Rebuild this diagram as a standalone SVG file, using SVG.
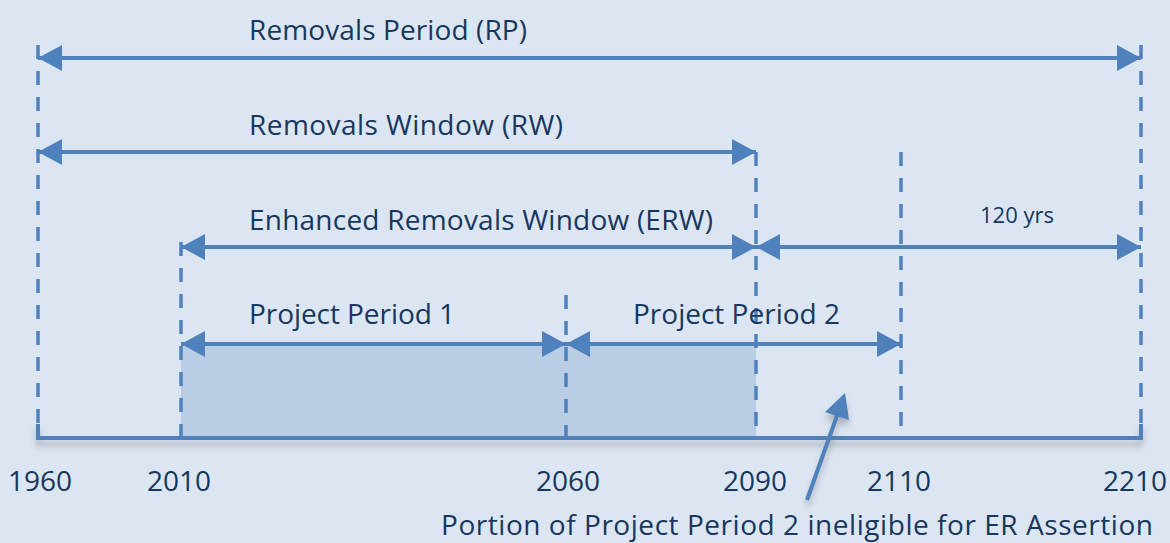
<svg xmlns="http://www.w3.org/2000/svg" width="1170" height="543" viewBox="0 0 1170 543">
  <defs>
    <style>
      .lbl { font-family: "Open Sans", "Noto Sans", "Liberation Sans", sans-serif; fill: #17375e; }
      .big { font-size: 28px; }
      .small { font-size: 22px; }
      .span { fill: none; stroke: #4f81bd; stroke-width: 4; }
      .guide { fill: none; stroke: #4f81bd; stroke-width: 3.5; stroke-dasharray: 14 12; }
      .axis { fill: none; stroke: #4f81bd; stroke-width: 4; }
    </style>
    <marker id="head" markerUnits="userSpaceOnUse" viewBox="0 0 24 26" refX="24" refY="13" markerWidth="24" markerHeight="26" orient="auto-start-reverse">
      <path d="M0,0 L24,13 L0,26 Z" fill="#4f81bd"/>
    </marker>
    <filter id="shadow" x="-10%" y="-50%" width="120%" height="300%">
      <feDropShadow dx="0" dy="6" stdDeviation="3" flood-color="#6b6f78" flood-opacity="0.45"/>
    </filter>
  </defs>

  <rect x="0" y="0" width="1170" height="543" fill="#dce6f2"/>

  <!-- shaded eligible part of the project periods -->
  <rect id="eligible-band" x="181" y="344" width="575" height="94" fill="#b9cde5"/>

  <!-- year guides -->
  <g id="guides">
    <line class="guide" x1="38" y1="45" x2="38" y2="438"/>
    <line class="guide" x1="181" y1="242" x2="181" y2="438"/>
    <line class="guide" x1="566" y1="295" x2="566" y2="438"/>
    <line class="guide" x1="756" y1="152" x2="756" y2="438"/>
    <line class="guide" x1="901" y1="152" x2="901" y2="438"/>
    <line class="guide" x1="1141" y1="45" x2="1141" y2="438"/>
  </g>

  <!-- time axis -->
  <g id="axis">
    <polyline class="axis" points="38,424 38,438 1141,438 1141,424" filter="url(#shadow)"/>
  </g>

  <!-- period spans -->
  <g id="connectors">
    <line class="span" x1="38" y1="58" x2="1141" y2="58" marker-start="url(#head)" marker-end="url(#head)"/>
    <line class="span" x1="38" y1="152" x2="756" y2="152" marker-start="url(#head)" marker-end="url(#head)"/>
    <line class="span" x1="181" y1="247" x2="756" y2="247" marker-start="url(#head)" marker-end="url(#head)"/>
    <line class="span" x1="756" y1="247" x2="1141" y2="247" marker-start="url(#head)" marker-end="url(#head)"/>
    <line class="span" x1="181" y1="344" x2="566" y2="344" marker-start="url(#head)" marker-end="url(#head)"/>
    <line class="span" x1="566" y1="344" x2="901" y2="344" marker-start="url(#head)" marker-end="url(#head)"/>
    <g id="pointer" filter="url(#shadow)">
      <line class="span" x1="807" y1="500" x2="839" y2="410"/>
      <path d="M845,393 L849,420 L825,412 Z" fill="#4f81bd"/>
    </g>
  </g>

  <g id="label-rp"><text class="lbl big" x="249" y="40" textLength="278">Removals Period (RP)</text></g>
  <g id="label-rw"><text class="lbl big" x="249" y="135" textLength="314">Removals Window (RW)</text></g>
  <g id="label-erw"><text class="lbl big" x="249" y="230" textLength="464">Enhanced Removals Window (ERW)</text></g>
  <g id="label-120"><text class="lbl small" x="980" y="223">120 yrs</text></g>
  <g id="label-pp1"><text class="lbl big" x="249" y="324" textLength="206">Project Period 1</text></g>
  <g id="label-pp2"><text class="lbl big" x="633" y="324" textLength="207">Project Period 2</text></g>

  <g id="years">
    <text class="lbl big" x="40" y="491" text-anchor="middle">1960</text>
    <text class="lbl big" x="179" y="491" text-anchor="middle">2010</text>
    <text class="lbl big" x="568" y="491" text-anchor="middle">2060</text>
    <text class="lbl big" x="755" y="491" text-anchor="middle">2090</text>
    <text class="lbl big" x="899" y="491" text-anchor="middle">2110</text>
    <text class="lbl big" x="1135" y="491" text-anchor="middle">2210</text>
  </g>

  <g id="label-ineligible"><text class="lbl big" x="441" y="535" textLength="712">Portion of Project Period 2 ineligible for ER Assertion</text></g>
</svg>
